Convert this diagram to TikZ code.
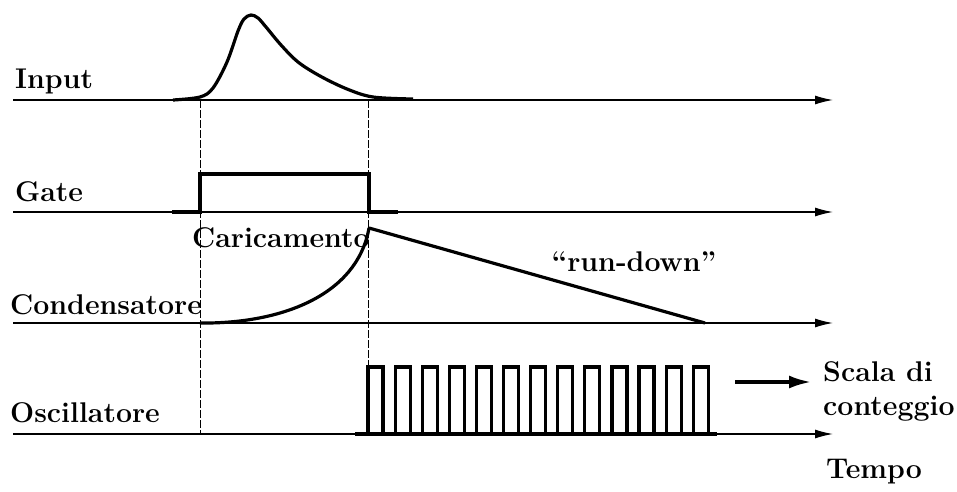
\documentclass[tikz,border=0pt]{standalone}
\usetikzlibrary{arrows.meta}

\tikzset{
  axis/.style={line width=1.3pt,-{Latex[length=18pt,width=9pt]}},
  sig/.style={line width=3.2pt,line join=miter},
  guide/.style={line width=0.9pt,dash pattern=on 8pt off 2pt},
  lbl/.style={font=\fontsize{28.5}{34}\selectfont\bfseries,inner sep=0pt,anchor=base west}
}

\begin{document}
\begin{tikzpicture}[x=1pt,y=-1pt]
\useasboundingbox (0,0) rectangle (957,491);
% the four time axes
\foreach \n/\y in {input/100,gate/212,cond/323,osc/434} {
  \coordinate (\n0) at (13,\y);
  \coordinate (\n1) at (833,\y);
  \draw[axis] (\n0) -- (\n1);
}
\node[lbl] (linput) at (15,88) {Input};
\node[lbl] (lgate) at (15,201) {Gate};
\node[lbl] (lcond) at (10,314) {Condensatore};
\node[lbl] (losc) at (10,422) {Oscillatore};
% gate edges
\coordinate (ga) at (200,100);
\coordinate (gb) at (368,100);
\draw[guide] (ga) -- (ga |- osc0);
\draw[guide] (gb) -- (gb |- osc0);
% input pulse
\draw[sig] plot[smooth,tension=0.55] coordinates {(173,100) (200,97) (213,88) (227,62) (238,31) (244,19)
  (251,15) (258,18) (266,27) (281,45) (298,62) (320,76) (347,89) (373,97) (413,99)};
% gate signal
\draw[sig] (172,212) -- (200,212) -- (200,174) -- (369,174) -- (369,212) -- (398,212);
% capacitor charge and run-down
\coordinate (low) at (200,323);
\coordinate (top) at (369,228);
\draw[sig] (low) .. controls (280,324) and (357,296) .. (top);
\draw[sig] (top) -- (705,323);
\node[lbl] (lcar) at (192,247) {Caricamento};
\node[font=\fontsize{28.5}{34}\selectfont\bfseries,inner sep=0pt] (lrun) at (634,262) {``run-down''};
% oscillator pulses
\draw[sig] (355,434) -- (717,434);
\foreach \k in {0,...,12}
  \draw[sig] ({368+27.1*\k},434) -- ++(0,-67) -- ++(15,0) -- ++(0,67);
\node[lbl,align=left,anchor=north west] (lscala) at (823,361) {Scala di\\conteggio};
\coordinate (sa) at (735,382);
\coordinate (sb) at (811,382);
\draw[line width=3.2pt,-{Latex[length=22pt,width=13pt]}] (sa) -- (sb);
\node[lbl] (ltempo) at (826,478) {Tempo};
\end{tikzpicture}
\end{document}
